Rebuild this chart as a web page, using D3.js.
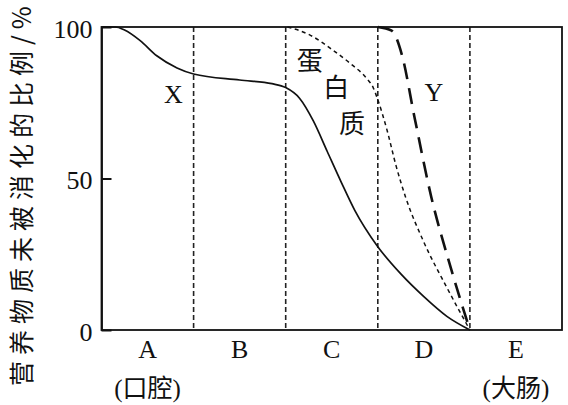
<!DOCTYPE html>
<html><head><meta charset="utf-8">
<script src="https://cdn.jsdelivr.net/npm/d3@7"></script>
<style>
html,body{margin:0;padding:0;background:#fff;}
svg{display:block;}
</style></head>
<body>
<svg id="c" width="568" height="405"></svg>
<script>
// ---- data ----
const regions = ["A", "B", "C", "D", "E"];
const regionNotes = ["(口腔)", "", "", "", "(大肠)"];
const yTicks = [0, 50, 100];
const yLabel = "营养物质未被消化的比例/%";
// curve X (solid): [position in regions, percent undigested]
const curveX = [[0,100],[0.15,100],[0.25,99],[0.42,95.5],[0.6,90.5],[0.82,86.5],[1.0,84.5],[1.5,82.5],[1.85,81.3],[2.0,80],[2.15,76.5],[2.3,69],[2.45,59],[2.6,49],[2.75,39.5],[3.0,27.5],[3.25,18.5],[3.5,11],[3.75,4.5],[4.0,0]];
// protein (fine dotted)
const curveProtein = [[2.02,100],[2.26,97.4],[2.51,92.4],[2.7,88],[2.88,83],[2.95,80],[3.0,76],[3.1,66],[3.2,54],[3.3,44],[3.5,29],[3.75,14],[4.0,0]];
// curve Y (long dashes)
const curveY = [[3.0,100],[3.15,98.8],[3.26,91],[3.4,70],[3.58,44],[3.78,21.8],[4.0,0]];
const labels = [["X",0.78,78],["Y",3.61,78.5]];
const proteinChars = [["蛋",2.26,89],["白",2.55,80],["质",2.72,68.3]];

// ---- chart ----
const svg = d3.select("#c");
const L = 101.5, R = 562, T = 27, B = 330;
const x = d3.scaleLinear().domain([0, regions.length]).range([L, R]);
const y = d3.scaleLinear().domain([0, 100]).range([B, T]);
const serif = "'Liberation Serif','Times New Roman','Noto Sans CJK SC',serif";
const cjk = "'Noto Sans CJK SC','Liberation Serif',sans-serif";

// separators
svg.selectAll("line.sep").data(d3.range(1, regions.length)).join("line")
  .attr("class","sep")
  .attr("x1", d => x(d)).attr("x2", d => x(d))
  .attr("y1", y(100)).attr("y2", y(0))
  .attr("stroke","#222").attr("stroke-width",1.6).attr("stroke-dasharray","5,3");

// frame
svg.append("rect").attr("x",L).attr("y",T).attr("width",R-L).attr("height",B-T)
  .attr("fill","none").attr("stroke","#111").attr("stroke-width",1.8);

// y axis
const ax = svg.append("g").attr("transform",`translate(${L},0)`)
  .call(d3.axisLeft(y).tickValues(yTicks).tickSizeInner(-10).tickSizeOuter(0).tickPadding(9).tickFormat(d3.format("d")));
ax.select(".domain").attr("stroke","#111").attr("stroke-width",1.8);
ax.selectAll(".tick line").attr("stroke","#111").attr("stroke-width",2);
ax.selectAll(".tick text").attr("font-family",serif).attr("font-size",26).attr("fill","#111").attr("dy","0.4em");

// curves
const line = d3.line().x(d => x(d[0])).y(d => y(d[1])).curve(d3.curveMonotoneX);
svg.append("path").datum(curveX).attr("d",line).attr("fill","none").attr("stroke","#111").attr("stroke-width",1.7);
svg.append("path").datum(curveProtein).attr("d",line).attr("fill","none").attr("stroke","#111").attr("stroke-width",1.5).attr("stroke-dasharray","4,3.5");
svg.append("path").datum(curveY).attr("d",line).attr("fill","none").attr("stroke","#111").attr("stroke-width",2.6).attr("stroke-dasharray","16,9");

// category labels
svg.selectAll("text.cat").data(regions).join("text").attr("class","cat")
  .attr("x",(d,i)=>x(i+0.5)).attr("y",349).attr("dy","0.35em")
  .attr("text-anchor","middle").attr("font-family",serif).attr("font-size",26).attr("fill","#111")
  .text(d=>d);
svg.selectAll("text.note").data(regionNotes).join("text").attr("class","note")
  .attr("x",(d,i)=>x(i+0.5)).attr("y",388).attr("dy","0.35em")
  .attr("text-anchor","middle").attr("font-family",serif).attr("font-size",25).attr("fill","#111")
  .text(d=>d);

// curve labels
svg.selectAll("text.lab").data(labels).join("text").attr("class","lab")
  .attr("x",d=>x(d[1])).attr("y",d=>y(d[2])).attr("dy","0.35em")
  .attr("text-anchor","middle").attr("font-family",serif).attr("font-size",26).attr("fill","#111")
  .text(d=>d[0]);
svg.selectAll("text.pc").data(proteinChars).join("text").attr("class","pc")
  .attr("x",d=>x(d[1])).attr("y",d=>y(d[2])).attr("dy","0.38em")
  .attr("text-anchor","middle").attr("font-family",cjk).attr("font-size",26).attr("fill","#111")
  .text(d=>d[0]);

// y label
svg.append("text").attr("transform","translate(22,386) rotate(-90)")
  .attr("dy","0.36em").attr("text-anchor","start")
  .attr("font-family",cjk).attr("font-size",25).attr("letter-spacing",6).attr("fill","#111")
  .text(yLabel);
</script>
</body></html>
